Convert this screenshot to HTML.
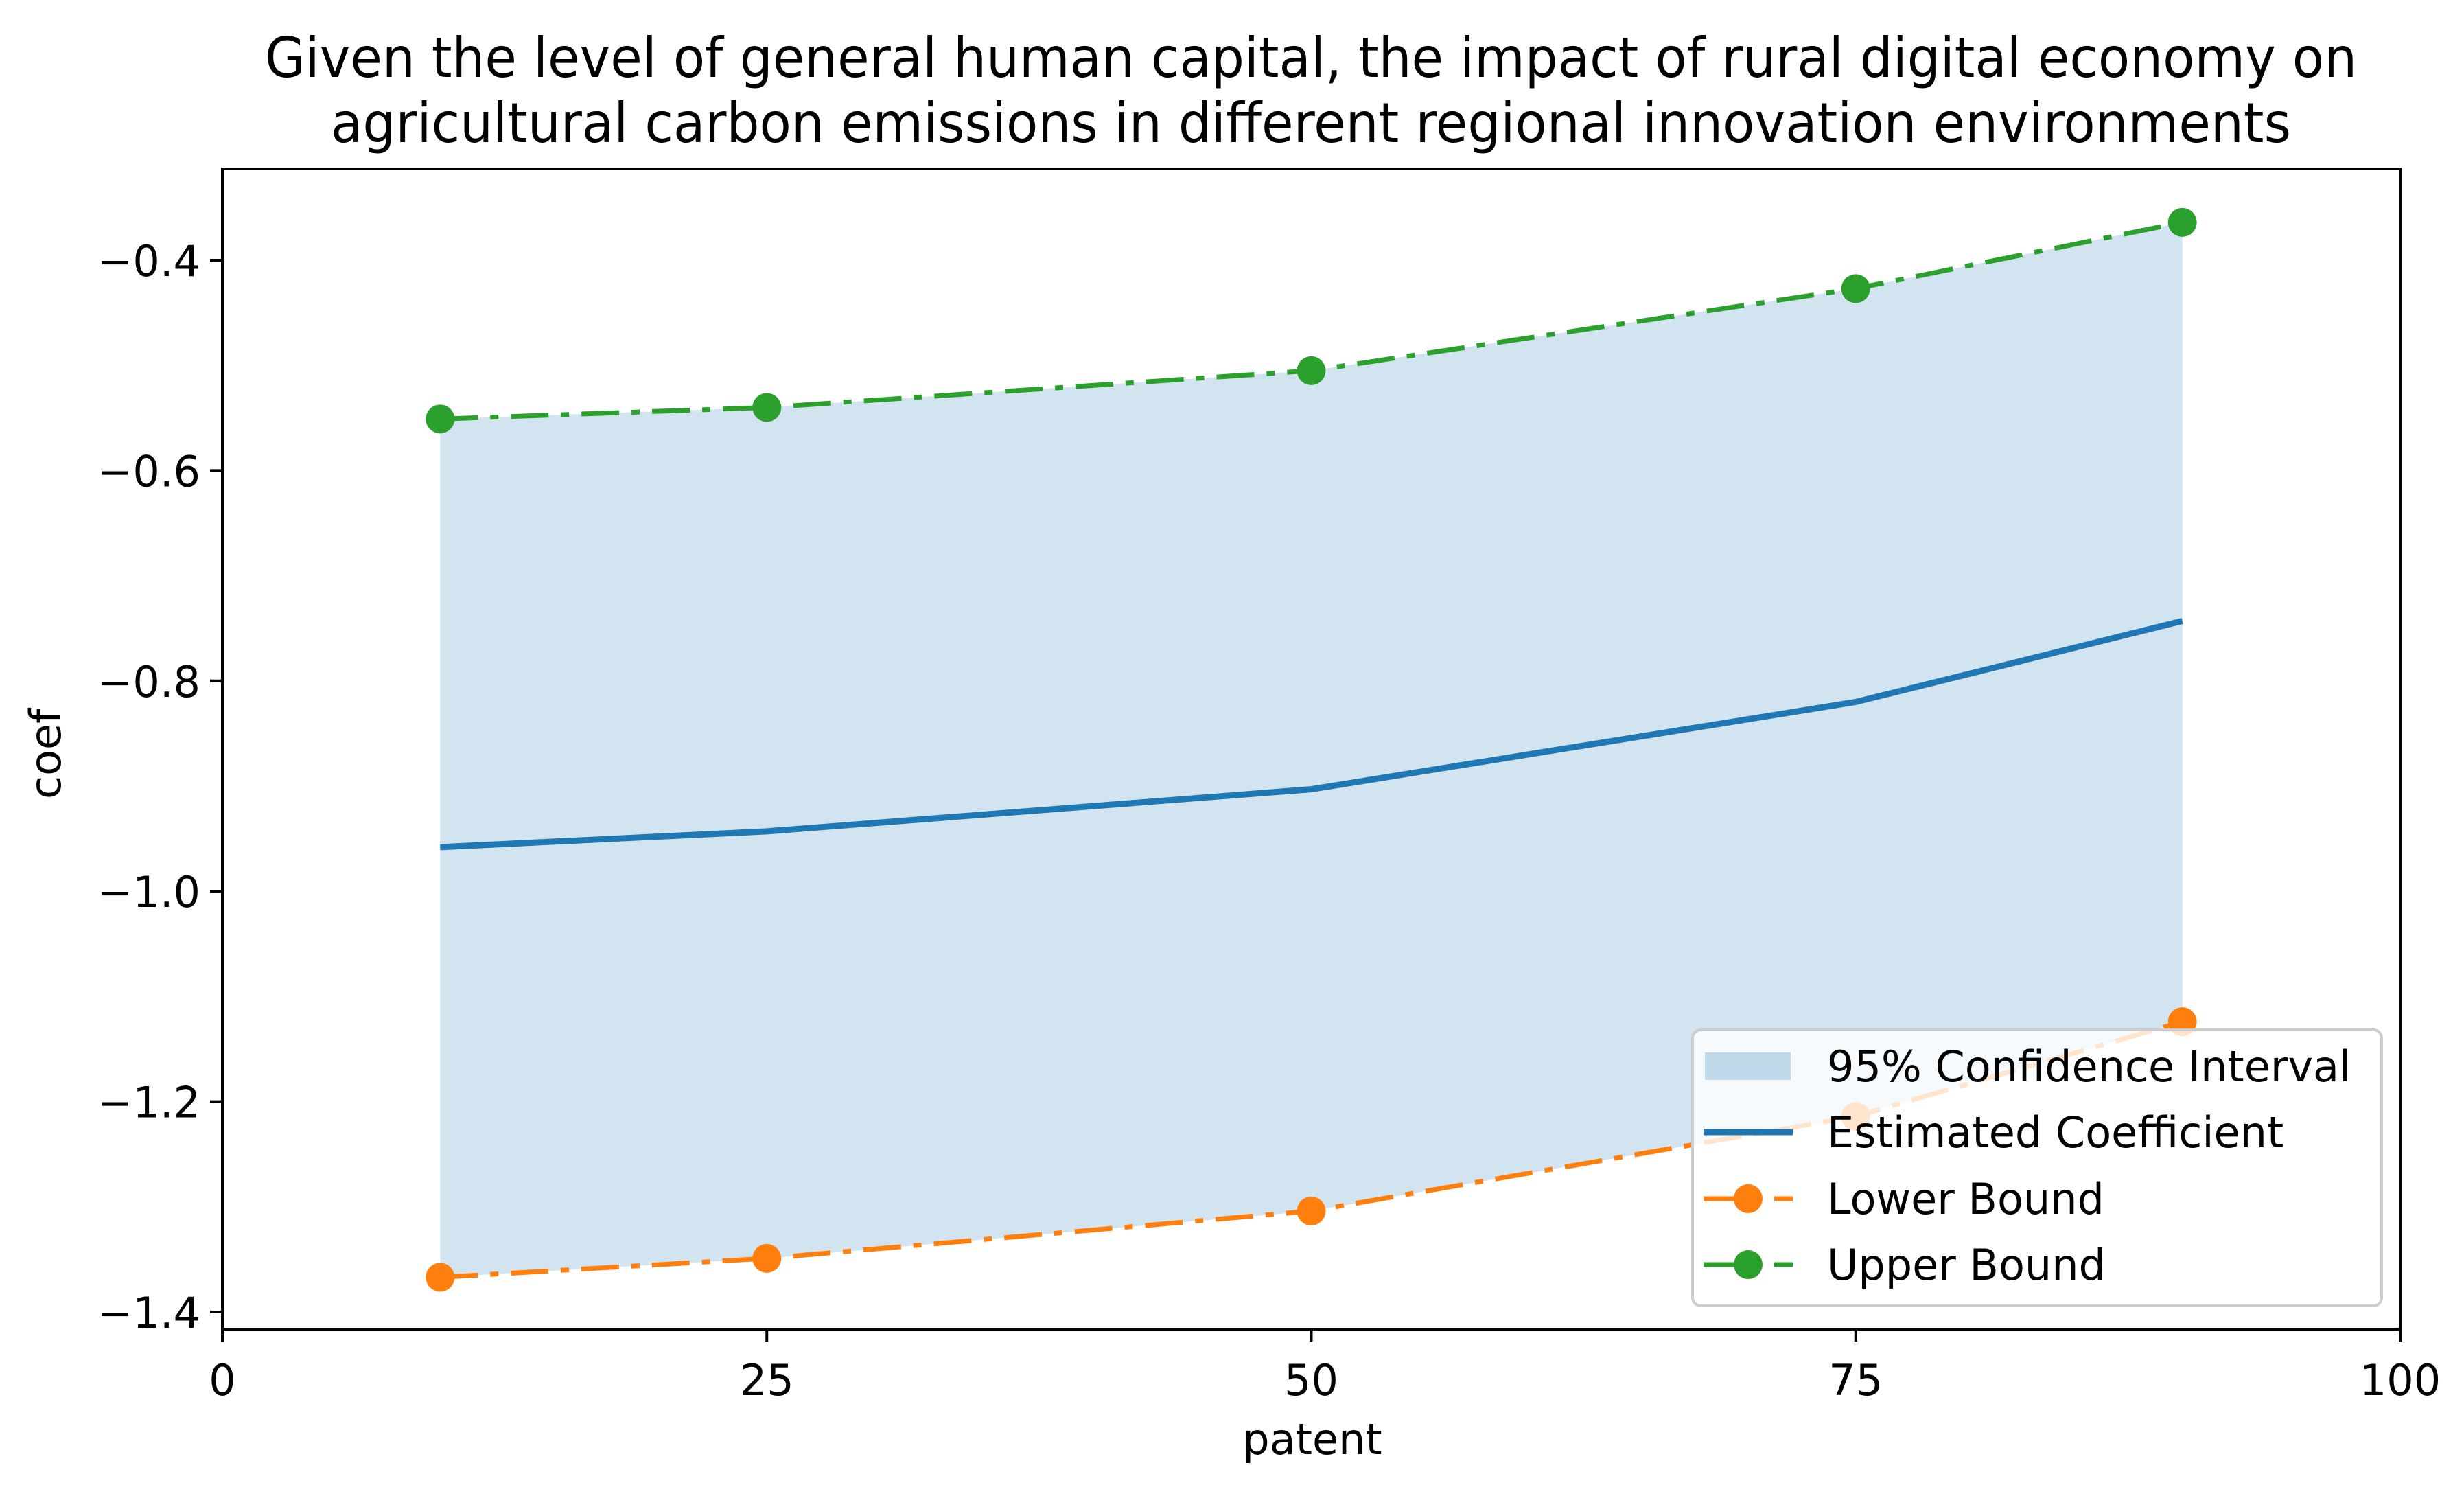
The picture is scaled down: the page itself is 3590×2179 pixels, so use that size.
<!DOCTYPE html>
<html><head><meta charset="utf-8"><style>
html,body{margin:0;padding:0;background:#fff;}
svg{display:block;font-family:"DejaVu Sans","Liberation Sans",sans-serif;}
</style></head><body>
<svg id="chart" width="3590" height="2179" viewBox="0 0 3590 2179" xmlns="http://www.w3.org/2000/svg">
<rect width="3590" height="2179" fill="#fff"/>
<text x="1910" y="112" font-size="80" text-anchor="middle" textLength="3048" lengthAdjust="spacingAndGlyphs" fill="#000">Given the level of general human capital, the impact of rural digital economy on</text>
<text x="1910" y="207" font-size="80" text-anchor="middle" textLength="2856" lengthAdjust="spacingAndGlyphs" fill="#000">agricultural carbon emissions in different regional innovation environments</text>
<g id="plot"></g>
<g id="axes"></g>
<text x="1912" y="2118" font-size="62" text-anchor="middle" fill="#000">patent</text>
<text transform="translate(88,1098) rotate(-90)" font-size="62" text-anchor="middle" fill="#000">coef</text>
<g id="legend"></g>
</svg>
<script>
const xValues = [10, 25, 50, 75, 90];
const coefValues = [-0.958, -0.943, -0.903, -0.820, -0.743];
const lowerValues = [-1.367, -1.349, -1.304, -1.214, -1.124];
const upperValues = [-0.551, -0.540, -0.505, -0.427, -0.364];
const xTicks = [0, 25, 50, 75, 100];
const yTicks = [-1.4, -1.2, -1.0, -0.8, -0.6, -0.4];
const xTickLabels = ["0", "25", "50", "75", "100"];
const yTickLabels = ["\u22121.4", "\u22121.2", "\u22121.0", "\u22120.8", "\u22120.6", "\u22120.4"];
const legendLabels = ["95% Confidence Interval", "Estimated Coefficient", "Lower Bound", "Upper Bound"];

const NS = "http://www.w3.org/2000/svg";
const L = 324, R = 3497, T = 246, B = 1936;
const xMin = 0, xMax = 100;
const yA = 379, yPer = 306.4;
function sx(v){ return L + (v - xMin) / (xMax - xMin) * (R - L); }
function sy(v){ return yA + (-0.4 - v) / 0.2 * yPer; }
function mk(tag, attrs, parent){
  const e = document.createElementNS(NS, tag);
  for (const k in attrs) e.setAttribute(k, attrs[k]);
  parent.appendChild(e);
  return e;
}
const plot = document.getElementById('plot');
const axes = document.getElementById('axes');
const legend = document.getElementById('legend');

// fill band
let d = xValues.map((x,i)=>(i?'L':'M')+sx(x)+','+sy(upperValues[i])).join(' ');
for (let i = xValues.length-1; i >= 0; i--) d += ' L'+sx(xValues[i])+','+sy(lowerValues[i]);
const band = mk('path', {d: d+' Z', fill:'#1f77b4', 'fill-opacity':'0.2'}, plot);



function line(vals, color, dash, width, name){
  const p = mk('polyline', {points: xValues.map((x,i)=>sx(x)+','+sy(vals[i])).join(' '), fill:'none', stroke:color, 'stroke-width':width, 'stroke-dasharray':dash||'none', 'stroke-linejoin':'round'}, plot);
  
  
}
line(coefValues, '#1f77b4', null, 9, 'coef-line');
line(lowerValues, '#ff7f0e', '55 18 12 18', 7, 'lower-bound-line');
line(upperValues, '#2ca02c', '55 18 12 18', 7, 'upper-bound-line');
function markers(vals, color, name){
  vals.forEach((v,i)=>{
    const c = mk('circle', {cx: sx(xValues[i]), cy: sy(v), r: 21, fill: color}, plot);
    
    
  });
}
markers(lowerValues, '#ff7f0e', 'lower-bound-point');
markers(upperValues, '#2ca02c', 'upper-bound-point');

// axes frame
const frame = mk('rect', {x:L, y:T, width:R-L, height:B-T, fill:'none', stroke:'#000', 'stroke-width':4}, axes);


xTicks.forEach((t,i)=>{
  mk('line', {x1:sx(t), x2:sx(t), y1:B, y2:B+18, stroke:'#000', 'stroke-width':4}, axes);
  const tx = mk('text', {x:sx(t), y:2032, 'font-size':62, 'text-anchor':'middle', fill:'#000'}, axes);
  tx.textContent = xTickLabels[i];
  
  
});
yTicks.forEach((t,i)=>{
  mk('line', {x1:L-18, x2:L, y1:sy(t), y2:sy(t), stroke:'#000', 'stroke-width':4}, axes);
  const tx = mk('text', {x:L-32, y:sy(t)+23, 'font-size':62, 'text-anchor':'end', fill:'#000'}, axes);
  tx.textContent = yTickLabels[i];
  
  
});

// legend
const lb = mk('rect', {x:2466, y:1500, width:1004, height:402, rx:12, fill:'#fff', 'fill-opacity':'0.8', stroke:'#ccc', 'stroke-width':4}, legend);


const rows = [1553, 1649, 1746, 1842];
legendLabels.forEach((lab,i)=>{
  const y = rows[i];
  const g = mk('g', {}, legend);
  
  
  if (i===0) mk('rect', {x:2484, y:y-20, width:125, height:40, fill:'#1f77b4', 'fill-opacity':'0.25'}, g);
  if (i===1) mk('line', {x1:2482, x2:2612, y1:y, y2:y, stroke:'#1f77b4', 'stroke-width':9}, g);
  if (i>=2){
    const c = i===2 ? '#ff7f0e' : '#2ca02c';
    mk('line', {x1:2482, x2:2612, y1:y, y2:y, stroke:c, 'stroke-width':7, 'stroke-dasharray':'55 18 12 18'}, g);
    mk('circle', {cx:2547, cy:y, r:21, fill:c}, g);
  }
  const t = mk('text', {x:2662, y:y+22, 'font-size':62, fill:'#000'}, g);
  t.textContent = lab;
});
</script>
</body></html>
